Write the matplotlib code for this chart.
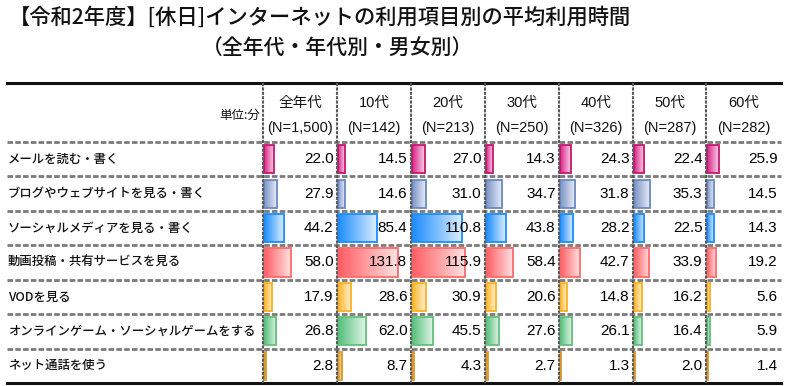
import matplotlib
matplotlib.use("Agg")
import matplotlib.pyplot as plt
import numpy as np
from matplotlib import font_manager
from matplotlib.colors import LinearSegmentedColormap
from matplotlib.lines import Line2D
import matplotlib.transforms as mtransforms

# ---------------- data ----------------
title_line1 = "【令和2年度】[休日]インターネットの利用項目別の平均利用時間"
title_line2 = "（全年代・年代別・男女別）"
unit_label = "単位:分"
columns = ["全年代", "10代", "20代", "30代", "40代", "50代", "60代"]
column_n = ["(N=1,500)", "(N=142)", "(N=213)", "(N=250)", "(N=326)", "(N=287)", "(N=282)"]
items = ["メールを読む・書く", "ブログやウェブサイトを見る・書く", "ソーシャルメディアを見る・書く",
         "動画投稿・共有サービスを見る", "VODを見る", "オンラインゲーム・ソーシャルゲームをする",
         "ネット通話を使う"]
mail = [22.0, 14.5, 27.0, 14.3, 24.3, 22.4, 25.9]
blog = [27.9, 14.6, 31.0, 34.7, 31.8, 35.3, 14.5]
social = [44.2, 85.4, 110.8, 43.8, 28.2, 22.5, 14.3]
video = [58.0, 131.8, 115.9, 58.4, 42.7, 33.9, 19.2]
vod = [17.9, 28.6, 30.9, 20.6, 14.8, 16.2, 5.6]
game = [26.8, 62.0, 45.5, 27.6, 26.1, 16.4, 5.9]
call = [2.8, 8.7, 4.3, 2.7, 1.3, 2.0, 1.4]
series = [mail, blog, social, video, vod, game, call]

# bar colours: (strong, light, edge)
bar_colors = [
    ("#DA1F88", "#F8D2E6", "#C8156E"),
    ("#7892C6", "#E8EDF7", "#6A88C0"),
    ("#1A8CFF", "#DDEEFF", "#1A8CFF"),
    ("#FF5C62", "#FFE2E2", "#FF6A6A"),
    ("#FFB425", "#FFF1D2", "#FFB020"),
    ("#52BE78", "#E2F5E9", "#63BE7B"),
    ("#D9982B", "#F5DDB0", "#D9982B"),
]

# ---------------- fonts ----------------
avail = {f.name for f in font_manager.fontManager.ttflist}
narrow = "Liberation Sans Narrow" if "Liberation Sans Narrow" in avail else "Liberation Sans"
is_narrow = narrow == "Liberation Sans Narrow"
CJK = "Noto Sans CJK JP"
num_family = [narrow, CJK]
plt.rcParams['font.family'] = [CJK, "DejaVu Sans"]

# ---------------- layout (pixels) ----------------
W, H = 788, 386
fig = plt.figure(figsize=(W / 100, H / 100), dpi=100)
fig.patch.set_facecolor("white")

def fx(x):
    return x / W

def fy(y):
    return 1 - y / H

table_left, table_right = 7, 781
top_y, header_bottom, bottom_y = 83, 142, 383
col_edges = [263, 337, 411, 485, 559, 633, 706, 781]
nrows = len(items)
row_h = (bottom_y - header_bottom) / nrows

# title
fig.text(fx(9), fy(18), title_line1, fontsize=15.3, va="center", ha="left", family=[CJK],
         weight="medium", color="#111111")
fig.text(fx(338), fy(48), title_line2, fontsize=15, va="center", ha="center", family=[CJK],
         weight="medium", color="#111111")

# header texts
fig.text(fx(260), fy(115), unit_label, fontsize=9, va="center", ha="right", family=[CJK],
         color="#111111")
for i, (c, n) in enumerate(zip(columns, column_n)):
    cx = (col_edges[i] + col_edges[i + 1]) / 2
    fig.text(fx(cx), fy(103), c, fontsize=12 if is_narrow else 10.5, va="center", ha="center",
             family=num_family, color="#111111")
    fig.text(fx(cx), fy(128), n, fontsize=12 if is_narrow else 10.5, va="center", ha="center",
             family=num_family, color="#111111")

# row labels
for r, name in enumerate(items):
    cy = header_bottom + row_h * (r + 0.5)
    fig.text(fx(8), fy(cy), name, fontsize=8.9, va="center", ha="left",
             family=[CJK, "DejaVu Sans"], weight="medium", color="#111111")

# ---------------- column axes with bars ----------------
grad = np.linspace(0, 1, 256).reshape(1, -1)
for ci in range(len(columns)):
    l, r = col_edges[ci], col_edges[ci + 1]
    ax = fig.add_axes([fx(l), fy(bottom_y), (r - l) / W, (bottom_y - header_bottom) / H])
    ax.set_axis_off()
    for ri, vals in enumerate(series):
        v = vals[ci]
        strong, light, edge = bar_colors[ri]
        y = ri + 0.5
        h = 0.82
        bars = ax.barh(y, v, height=h, left=0, color="none", edgecolor=edge, linewidth=1.3, zorder=3)
        cmap = LinearSegmentedColormap.from_list("g%d" % ri, [strong, light])
        im = ax.imshow(grad, cmap=cmap, extent=(0, v, y - h / 2, y + h / 2), aspect="auto",
                       zorder=2, interpolation="bilinear")
        im.set_clip_path(bars[0])
        tr = mtransforms.offset_copy(mtransforms.blended_transform_factory(ax.transAxes, ax.transData),
                                     fig=fig, x=-3.5, y=0, units="dots")
        ax.text(1, y, f"{v:.1f}", transform=tr, ha="right", va="center",
                fontsize=13 if is_narrow else 11, family=num_family, color="#000000", zorder=5)
    ax.set_xlim(-3, 161)
    ax.set_ylim(nrows, 0)

# ---------------- table lines ----------------
lax = fig.add_axes([0, 0, 1, 1], facecolor="none")
lax.set_xlim(0, W)
lax.set_ylim(H, 0)
lax.set_axis_off()
lax.add_line(Line2D([table_left, table_right], [top_y, top_y], color="#111111", lw=2.2))
lax.add_line(Line2D([table_left, table_right], [bottom_y, bottom_y], color="#111111", lw=2.2))
for k in range(nrows):
    yy = header_bottom + row_h * k
    lax.add_line(Line2D([table_left, table_right], [yy, yy], color="#7a7a7a", lw=2.0,
                        linestyle=(0, (2.0, 0.8))))
for xe in col_edges[:-1]:
    lax.add_line(Line2D([xe, xe], [top_y, bottom_y], color="#5a5a5a", lw=1.5,
                        linestyle=(0, (1.5, 0.6))))

fig.savefig("out.png", dpi=100, facecolor="white")
